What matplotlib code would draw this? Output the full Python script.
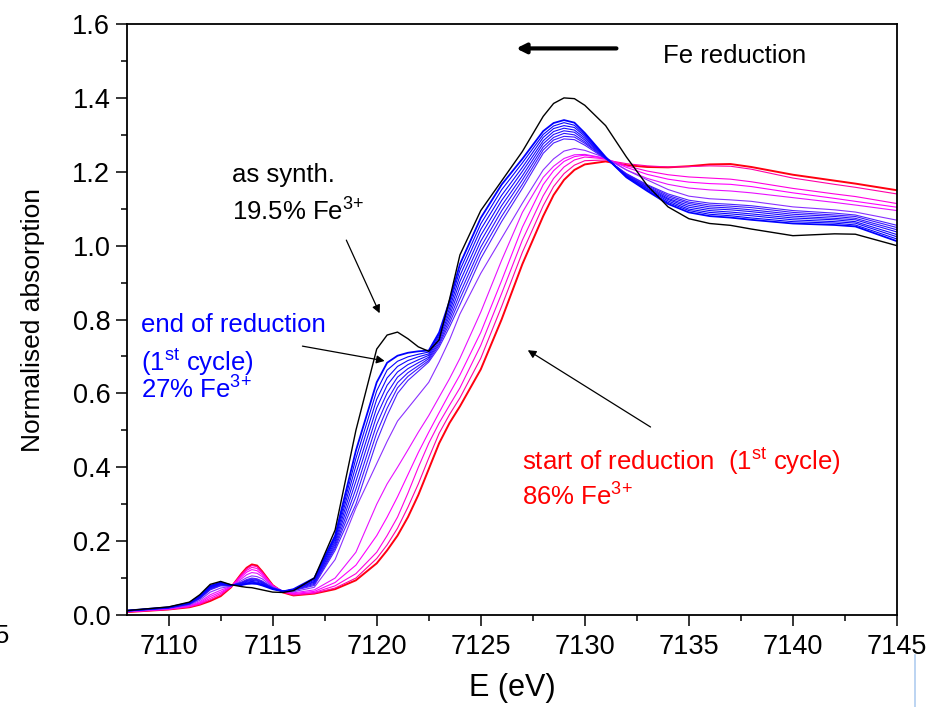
import numpy as np
import matplotlib
matplotlib.use('Agg')
import matplotlib.pyplot as plt
from matplotlib.ticker import MultipleLocator, FormatStrFormatter
from matplotlib.lines import Line2D

plt.rcParams['font.family'] = ['Liberation Sans', 'DejaVu Sans']
plt.rcParams['mathtext.fontset'] = 'custom'
plt.rcParams['mathtext.rm'] = 'Liberation Sans'
plt.rcParams['mathtext.it'] = 'Liberation Sans:italic'

# energy grid (eV)
energy = [7108, 7110, 7111, 7111.5, 7112, 7112.5, 7113, 7113.5, 7113.75, 7114, 7114.25, 7114.5,
          7115, 7115.5, 7116, 7117, 7118, 7119, 7120, 7120.5, 7121, 7121.5,
          7122, 7122.5, 7123, 7123.5, 7124, 7125, 7126, 7127, 7128, 7128.5,
          7129, 7129.5, 7130, 7131, 7132, 7133, 7134, 7135, 7136, 7137,
          7138, 7140, 7142, 7143, 7145]

# as synthesised (black)
as_synth = [0.012, 0.022, 0.035, 0.055, 0.083, 0.091, 0.082, 0.077, 0.075, 0.074, 0.071, 0.068,
            0.062, 0.061, 0.066, 0.100, 0.230, 0.500, 0.720, 0.758, 0.766, 0.748,
            0.726, 0.714, 0.745, 0.855, 0.975, 1.095, 1.175, 1.255, 1.350, 1.385,
            1.400, 1.398, 1.380, 1.325, 1.240, 1.163, 1.105, 1.073, 1.060, 1.055,
            1.045, 1.027, 1.032, 1.031, 1.000]

# start of reduction (red)
start_red = [0.008, 0.015, 0.021, 0.028, 0.038, 0.051, 0.075, 0.112, 0.128, 0.137, 0.134, 0.118,
             0.081, 0.061, 0.053, 0.058, 0.070, 0.094, 0.140, 0.175, 0.215, 0.265,
             0.325, 0.395, 0.465, 0.520, 0.565, 0.665, 0.800, 0.950, 1.080, 1.137,
             1.178, 1.205, 1.220, 1.228, 1.218, 1.213, 1.212, 1.215, 1.220, 1.221,
             1.213, 1.192, 1.176, 1.168, 1.150]

magenta_4 = [0.008, 0.015, 0.022, 0.029, 0.041, 0.054, 0.076, 0.110, 0.125, 0.134, 0.131, 0.116,
             0.080, 0.062, 0.054, 0.059, 0.073, 0.100, 0.153, 0.190, 0.235, 0.292,
             0.355, 0.425, 0.492, 0.543, 0.588, 0.695, 0.835, 0.982, 1.108, 1.160,
             1.195, 1.218, 1.230, 1.232, 1.222, 1.216, 1.213, 1.214, 1.216, 1.215,
             1.207, 1.183, 1.166, 1.158, 1.140]

magenta_3 = [0.009, 0.016, 0.023, 0.031, 0.045, 0.058, 0.077, 0.107, 0.121, 0.129, 0.126, 0.113,
             0.080, 0.063, 0.056, 0.061, 0.079, 0.112, 0.170, 0.215, 0.265, 0.330,
             0.400, 0.465, 0.520, 0.568, 0.615, 0.730, 0.870, 1.015, 1.135, 1.182,
             1.213, 1.232, 1.240, 1.235, 1.216, 1.202, 1.192, 1.186, 1.183, 1.180,
             1.173, 1.155, 1.140, 1.133, 1.114]

magenta_2 = [0.009, 0.016, 0.024, 0.033, 0.050, 0.062, 0.077, 0.103, 0.116, 0.123, 0.120, 0.109,
             0.079, 0.063, 0.058, 0.064, 0.088, 0.135, 0.215, 0.265, 0.320, 0.380,
             0.440, 0.495, 0.548, 0.600, 0.650, 0.765, 0.905, 1.050, 1.165, 1.203,
             1.228, 1.241, 1.245, 1.236, 1.212, 1.193, 1.180, 1.172, 1.168, 1.166,
             1.160, 1.143, 1.128, 1.120, 1.104]

magenta_1 = [0.010, 0.017, 0.025, 0.036, 0.055, 0.067, 0.078, 0.098, 0.109, 0.115, 0.113, 0.104,
             0.078, 0.064, 0.060, 0.068, 0.100, 0.170, 0.300, 0.355, 0.400, 0.447,
             0.495, 0.540, 0.590, 0.640, 0.695, 0.820, 0.960, 1.090, 1.185, 1.215,
             1.236, 1.246, 1.247, 1.237, 1.205, 1.182, 1.166, 1.156, 1.151, 1.148,
             1.143, 1.130, 1.117, 1.110, 1.095]

purple = [0.010, 0.018, 0.027, 0.040, 0.062, 0.073, 0.078, 0.093, 0.101, 0.106, 0.104, 0.098,
          0.076, 0.065, 0.063, 0.075, 0.150, 0.290, 0.410, 0.470, 0.525, 0.560,
          0.595, 0.630, 0.685, 0.745, 0.815, 0.925, 1.020, 1.115, 1.205, 1.235,
          1.256, 1.263, 1.258, 1.238, 1.205, 1.178, 1.152, 1.134, 1.127, 1.124,
          1.120, 1.105, 1.097, 1.091, 1.069]

blue_8 = [0.011, 0.019, 0.029, 0.044, 0.068, 0.079, 0.079, 0.089, 0.096, 0.100, 0.098, 0.092,
          0.074, 0.065, 0.066, 0.080, 0.175, 0.300, 0.470, 0.540, 0.600, 0.635,
          0.660, 0.685, 0.725, 0.780, 0.840, 0.965, 1.065, 1.155, 1.250, 1.278,
          1.289, 1.287, 1.272, 1.235, 1.195, 1.165, 1.140, 1.123, 1.115, 1.112,
          1.108, 1.095, 1.088, 1.083, 1.055]
blue_7 = [0.011, 0.019, 0.030, 0.045, 0.070, 0.080, 0.079, 0.088, 0.094, 0.098, 0.096, 0.090,
          0.073, 0.065, 0.067, 0.083, 0.181, 0.321, 0.493, 0.560, 0.615, 0.646,
          0.668, 0.689, 0.731, 0.790, 0.856, 0.981, 1.079, 1.166, 1.259, 1.286,
          1.296, 1.294, 1.277, 1.236, 1.194, 1.163, 1.136, 1.118, 1.110, 1.107,
          1.103, 1.090, 1.083, 1.079, 1.049]
blue_6 = [0.011, 0.020, 0.030, 0.046, 0.071, 0.082, 0.080, 0.087, 0.093, 0.096, 0.094, 0.089,
          0.073, 0.065, 0.067, 0.086, 0.186, 0.341, 0.516, 0.581, 0.629, 0.656,
          0.675, 0.694, 0.736, 0.800, 0.871, 0.996, 1.094, 1.178, 1.267, 1.293,
          1.304, 1.300, 1.281, 1.236, 1.192, 1.160, 1.132, 1.114, 1.105, 1.102,
          1.097, 1.085, 1.079, 1.074, 1.043]
blue_5 = [0.011, 0.020, 0.031, 0.047, 0.073, 0.083, 0.080, 0.086, 0.091, 0.094, 0.092, 0.087,
          0.072, 0.065, 0.068, 0.089, 0.192, 0.362, 0.539, 0.601, 0.644, 0.667,
          0.683, 0.698, 0.742, 0.810, 0.887, 1.012, 1.108, 1.189, 1.276, 1.301,
          1.311, 1.307, 1.286, 1.237, 1.191, 1.158, 1.128, 1.109, 1.100, 1.097,
          1.092, 1.080, 1.074, 1.070, 1.037]
blue_4 = [0.012, 0.020, 0.031, 0.049, 0.074, 0.084, 0.080, 0.084, 0.089, 0.091, 0.089, 0.085,
          0.072, 0.064, 0.068, 0.091, 0.198, 0.383, 0.561, 0.622, 0.658, 0.678,
          0.691, 0.703, 0.748, 0.820, 0.903, 1.028, 1.122, 1.201, 1.284, 1.309,
          1.318, 1.313, 1.291, 1.238, 1.189, 1.155, 1.125, 1.104, 1.095, 1.091,
          1.086, 1.075, 1.070, 1.065, 1.030]
blue_3 = [0.012, 0.020, 0.032, 0.050, 0.076, 0.085, 0.080, 0.083, 0.087, 0.089, 0.087, 0.083,
          0.071, 0.064, 0.069, 0.094, 0.204, 0.404, 0.584, 0.642, 0.673, 0.689,
          0.699, 0.707, 0.754, 0.830, 0.919, 1.044, 1.136, 1.212, 1.293, 1.317,
          1.325, 1.320, 1.296, 1.239, 1.188, 1.153, 1.121, 1.099, 1.090, 1.086,
          1.081, 1.070, 1.065, 1.061, 1.024]
blue_2 = [0.012, 0.021, 0.032, 0.051, 0.077, 0.087, 0.081, 0.082, 0.085, 0.087, 0.085, 0.082,
          0.071, 0.064, 0.069, 0.097, 0.209, 0.424, 0.607, 0.663, 0.687, 0.699,
          0.706, 0.712, 0.759, 0.840, 0.934, 1.059, 1.151, 1.224, 1.301, 1.324,
          1.333, 1.326, 1.300, 1.239, 1.186, 1.150, 1.117, 1.095, 1.085, 1.081,
          1.075, 1.065, 1.061, 1.056, 1.018]
# end of reduction (bold blue)
end_blue = [0.012, 0.021, 0.033, 0.052, 0.079, 0.088, 0.081, 0.081, 0.084, 0.085, 0.084, 0.080,
            0.070, 0.064, 0.070, 0.100, 0.215, 0.445, 0.630, 0.683, 0.702, 0.710,
            0.714, 0.716, 0.765, 0.850, 0.950, 1.075, 1.165, 1.235, 1.310, 1.332,
            1.340, 1.333, 1.305, 1.240, 1.185, 1.148, 1.113, 1.090, 1.080, 1.076,
            1.070, 1.060, 1.056, 1.052, 1.012]

series = [
    (start_red, '#ff0010', 1.4),
    (magenta_4, '#ff00a8', 0.8),
    (magenta_3, '#ff00e0', 0.8),
    (magenta_2, '#ff00ff', 0.8),
    (magenta_1, '#e810ff', 0.8),
    (purple, '#8a30ff', 0.8),
    (blue_8, '#4a20ff', 0.8),
    (blue_7, '#3a18ff', 0.8),
    (blue_6, '#2a12ff', 0.8),
    (blue_5, '#1e0cff', 0.8),
    (blue_4, '#1408ff', 0.8),
    (blue_3, '#0c04ff', 0.8),
    (blue_2, '#0602ff', 0.8),
    (end_blue, '#0000ff', 1.3),
    (as_synth, '#000000', 1.0),
]

fig = plt.figure(figsize=(9.29, 7.07), dpi=100)
ax = fig.add_axes([0.1367, 0.1301, 0.8288, 0.8359])

for ys, col, lw in series:
    ax.plot(energy, ys, color=col, lw=lw, solid_joinstyle='round')

ax.set_xlim(7108, 7145)
ax.set_ylim(0, 1.6)
ax.xaxis.set_major_locator(MultipleLocator(5))
ax.xaxis.set_minor_locator(MultipleLocator(2.5))
ax.yaxis.set_major_locator(MultipleLocator(0.2))
ax.yaxis.set_minor_locator(MultipleLocator(0.1))
ax.yaxis.set_major_formatter(FormatStrFormatter('%.1f'))
ax.tick_params(which='major', direction='out', length=8, width=1.1,
               labelsize=19.5, pad=4)
ax.tick_params(which='minor', direction='out', length=4.3, width=1.1)
ax.tick_params(axis='x', which='major', pad=6)
for sp in ax.spines.values():
    sp.set_linewidth(1.3)

ax.set_xlabel('E (eV)', fontsize=22, labelpad=9)
ax.set_ylabel('Normalised absorption', fontsize=19, labelpad=20)

fs = 18.5
ax.text(7113.03, 1.173, 'as synth.', fontsize=fs, color='k')
ax.text(7113.03, 1.068, r'19.5% Fe$^{3{+}}$', fontsize=fs, color='k')
ax.text(7108.69, 0.767, 'end of reduction', fontsize=fs, color='#0000ff')
ax.text(7108.69, 0.66, r'(1$^{\mathrm{st}}$ cycle)', fontsize=fs, color='#0000ff')
ax.text(7108.69, 0.587, r'27% Fe$^{3{+}}$', fontsize=fs, color='#0000ff')
ax.text(7127.0, 0.3925, r'start of reduction  (1$^{\mathrm{st}}$ cycle)',
        fontsize=fs, color='#ff0000')
ax.text(7127.0, 0.297, r'86% Fe$^{3{+}}$', fontsize=fs, color='#ff0000')
ax.text(7133.77, 1.495, 'Fe reduction', fontsize=fs, color='k')

thin = dict(arrowstyle='-|>', color='k', lw=0.9, mutation_scale=12,
            shrinkA=0, shrinkB=0)
ax.annotate('', xy=(7120.14, 0.817), xytext=(7118.54, 1.015), arrowprops=thin)
ax.annotate('', xy=(7120.38, 0.688), xytext=(7116.43, 0.728), arrowprops=thin)
ax.annotate('', xy=(7127.26, 0.717), xytext=(7133.16, 0.509), arrowprops=thin)
ax.annotate('', xy=(7126.7, 1.534), xytext=(7131.52, 1.534),
            arrowprops=dict(arrowstyle='-|>', color='k', lw=3, mutation_scale=14,
                            shrinkA=0, shrinkB=0))

# cut-off label from a neighbouring panel and a stray line at the edge
fig.text(-0.006, 1 - 643 / 707, '5', fontsize=18.5, ha='left', va='baseline')
fig.add_artist(Line2D([915 / 929, 915 / 929], [0, 1 - 655 / 707],
                      transform=fig.transFigure, color='#b0cdf0', lw=1.2))

fig.savefig('out.png', dpi=100)
